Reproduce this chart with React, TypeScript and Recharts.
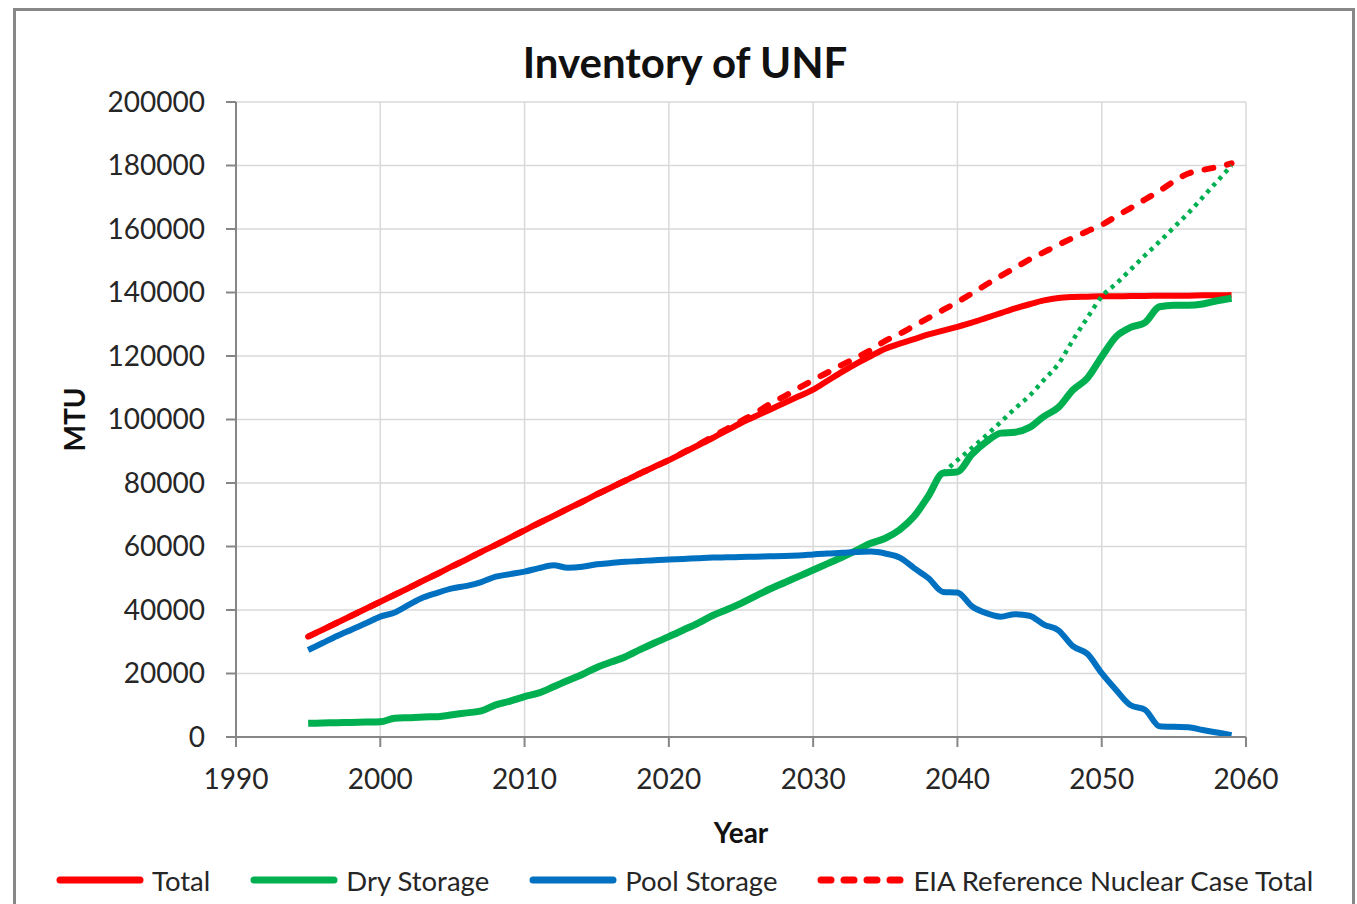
import React from "react";
import {
  CartesianGrid,
  Label,
  Legend,
  Line,
  LineChart,
  XAxis,
  YAxis,
} from "recharts";

const years = [
  1995, 1996, 1997, 1998, 1999, 2000, 2001, 2002, 2003, 2004, 2005, 2006, 2007,
  2008, 2009, 2010, 2011, 2012, 2013, 2014, 2015, 2016, 2017, 2018, 2019, 2020,
  2021, 2022, 2023, 2024, 2025, 2026, 2027, 2028, 2029, 2030, 2031, 2032, 2033,
  2034, 2035, 2036, 2037, 2038, 2039, 2040, 2041, 2042, 2043, 2044, 2045, 2046,
  2047, 2048, 2049, 2050, 2051, 2052, 2053, 2054, 2055, 2056, 2057, 2058, 2059,
];

const totalValues = [
  31600, 33800, 36000, 38200, 40400, 42600, 44800, 47000, 49300, 51500, 53800,
  56000, 58300, 60500, 62800, 65100, 67400, 69600, 71900, 74100, 76400, 78600,
  80800, 83000, 85100, 87200, 89500, 91800, 94100, 96500, 98900, 101000, 103100,
  105200, 107300, 109400, 112200, 115000, 117600, 120000, 122300, 123900,
  125300, 126800, 128000, 129200, 130500, 132000, 133500, 135000, 136300,
  137500, 138300, 138600, 138700, 138800, 138800, 138900, 138900, 139000,
  139000, 139000, 139100, 139100, 139200,
];

const dryValues = [
  4300, 4400, 4500, 4600, 4700, 4800, 5900, 6100, 6300, 6400, 7000, 7600, 8200,
  10100, 11300, 12700, 13900, 15800, 17800, 19700, 21900, 23600, 25300, 27500,
  29600, 31600, 33700, 35800, 38200, 40100, 42100, 44400, 46600, 48600, 50600,
  52600, 54600, 56600, 58800, 61000, 62600, 65300, 69500, 76000, 83100, 83500,
  89000, 93000, 95700, 96000, 97500, 101000, 103800, 109300, 113000, 119800,
  126100, 129000, 130500, 135500, 136000, 136000, 136400, 137400, 138200,
];

const poolValues = [
  27400, 29600, 31800, 33800, 35800, 37900, 39200, 41700, 44000, 45500, 46800,
  47600, 48800, 50500, 51300, 52100, 53200, 54100, 53300, 53600, 54400, 54800,
  55200, 55400, 55700, 55900, 56100, 56300, 56500, 56600, 56700, 56800, 56900,
  57000, 57200, 57500, 57800, 58000, 58300, 58400, 57800, 56500, 53200, 50000,
  45700, 45500, 41200, 39000, 37900, 38700, 38200, 35400, 33600, 28600, 26200,
  20100, 14800, 10000, 8600, 3400, 3200, 3100, 2200, 1400, 600,
];

const eiaValues = [
  31600, 33800, 36000, 38200, 40400, 42600, 44800, 47000, 49300, 51500, 53800,
  56000, 58300, 60500, 62800, 65100, 67400, 69600, 71900, 74100, 76400, 78600,
  80800, 83000, 85100, 87200, 89600, 92000, 94500, 97000, 99500, 102000,
  104900, 107300, 109900, 112400, 114800, 117200, 119500, 121900, 124800,
  127000, 129500, 132000, 134500, 137000, 139700, 142500, 145200, 147800,
  150400, 152700, 155000, 157200, 159300, 161300, 164000, 166600, 169300,
  172000, 175000, 177500, 178600, 179500, 180700,
];

// dotted green continuation, no legend entry
const projectionYears = [
  2039, 2040, 2041, 2042, 2043, 2044, 2045, 2046, 2047, 2048, 2049, 2050, 2051,
  2052, 2053, 2054, 2055, 2056, 2057, 2058, 2059,
];
const projectionValues = [
  83100, 87200, 91000, 95000, 99200, 103500, 107500, 112500, 117500, 125000,
  132000, 138700, 142800, 147200, 151700, 156000, 160500, 165000, 170000,
  175000, 180000,
];

const xTicks = [1990, 2000, 2010, 2020, 2030, 2040, 2050, 2060];
const yTicks = [
  0, 20000, 40000, 60000, 80000, 100000, 120000, 140000, 160000, 180000, 200000,
];

const legendItems = [
  { name: "Total", color: "#FF0000", dashed: false },
  { name: "Dry Storage", color: "#00B050", dashed: false },
  { name: "Pool Storage", color: "#0070C0", dashed: false },
  { name: "EIA Reference Nuclear Case Total", color: "#FF0000", dashed: true },
];

const data = years.map((year, i) => {
  const p = projectionYears.indexOf(year);
  return {
    year,
    total: totalValues[i],
    dry: dryValues[i],
    pool: poolValues[i],
    eia: eiaValues[i],
    projection: p >= 0 ? projectionValues[p] : undefined,
  };
});

const FONT = "Lato, 'Open Sans', sans-serif";
const TEXT = "#262626";
const AXIS = "#868686";

function ChartLegend() {
  return (
    <div
      style={{
        display: "flex",
        alignItems: "center",
        paddingLeft: 56,
        fontFamily: FONT,
        fontSize: 27.5,
        color: TEXT,
        height: 36,
        whiteSpace: "nowrap",
      }}
    >
      {legendItems.map((item, i) => (
        <div
          key={item.name}
          style={{
            display: "flex",
            alignItems: "center",
            flexShrink: 0,
            marginRight: i < legendItems.length - 1 ? 40 : 0,
          }}
        >
          <svg width={88} height={10} style={{ marginRight: 8, flexShrink: 0 }}>
            <line
              x1={4}
              y1={5}
              x2={84}
              y2={5}
              stroke={item.color}
              strokeWidth={7}
              strokeLinecap="round"
              strokeDasharray={item.dashed ? "10 13" : undefined}
            />
          </svg>
          <span>{item.name}</span>
        </div>
      ))}
    </div>
  );
}

export default function App() {
  return (
    <div
      style={{
        position: "fixed",
        inset: 0,
        overflow: "hidden",
        background: "#fff",
      }}
    >
      <div
        style={{
          position: "absolute",
          left: 13,
          top: 8,
          width: 1336,
          height: 920,
          border: "3px solid #888888",
        }}
      />
      <div
        style={{
          position: "absolute",
          left: 0,
          top: 41,
          width: 1370,
          textAlign: "center",
          fontFamily: FONT,
          fontWeight: 700,
          fontSize: 42,
          lineHeight: 1,
          color: "#111",
        }}
      >
        Inventory of UNF
      </div>
      <div style={{ position: "absolute", left: 0, top: 0 }}>
        <LineChart
          width={1357}
          height={904}
          data={data}
          margin={{ top: 102, right: 111, bottom: 60, left: 50 }}
        >
          <CartesianGrid stroke="#d9d9d9" strokeWidth={1.5} />
          <XAxis
            dataKey="year"
            type="number"
            domain={[1990, 2060]}
            ticks={xTicks}
            interval={0}
            height={107}
            tickSize={10}
            tickMargin={22}
            axisLine={{ stroke: AXIS, strokeWidth: 2 }}
            tickLine={{ stroke: AXIS, strokeWidth: 2 }}
            tick={{ fill: TEXT, fontSize: 28, fontFamily: FONT }}
          >
            <Label
              content={({ viewBox }: any) => (
                <text
                  x={viewBox.x + viewBox.width / 2}
                  y={viewBox.y + 106}
                  textAnchor="middle"
                  fontFamily={FONT}
                  fontWeight={700}
                  fontSize={28}
                  fill="#111"
                >
                  Year
                </text>
              )}
            />
          </XAxis>
          <YAxis
            domain={[0, 200000]}
            ticks={yTicks}
            interval={0}
            width={186}
            tickSize={10}
            tickMargin={21}
            axisLine={{ stroke: AXIS, strokeWidth: 2 }}
            tickLine={{ stroke: AXIS, strokeWidth: 2 }}
            tick={{ fill: TEXT, fontSize: 28, fontFamily: FONT }}
          >
            <Label
              content={({ viewBox }: any) => {
                const x = viewBox.x + 35;
                const y = viewBox.y + viewBox.height / 2;
                return (
                  <text
                    x={x}
                    y={y}
                    transform={`rotate(-90 ${x} ${y})`}
                    textAnchor="middle"
                    fontFamily={FONT}
                    fontWeight={700}
                    fontSize={28}
                    fill="#111"
                  >
                    MTU
                  </text>
                );
              }}
            />
          </YAxis>
          <Line
            type="monotone"
            dataKey="total"
            name="Total"
            stroke="#FF0000"
            strokeWidth={6}
            dot={false}
            activeDot={false}
            isAnimationActive={false}
          />
          <Line
            type="monotone"
            dataKey="dry"
            name="Dry Storage"
            stroke="#00B050"
            strokeWidth={7}
            dot={false}
            activeDot={false}
            isAnimationActive={false}
          />
          <Line
            type="monotone"
            dataKey="pool"
            name="Pool Storage"
            stroke="#0070C0"
            strokeWidth={6}
            dot={false}
            activeDot={false}
            isAnimationActive={false}
          />
          <Line
            type="monotone"
            dataKey="eia"
            name="EIA Reference Nuclear Case Total"
            stroke="#FF0000"
            strokeWidth={6}
            strokeDasharray="9 14"
            strokeLinecap="round"
            dot={false}
            activeDot={false}
            isAnimationActive={false}
          />
          <Line
            type="monotone"
            dataKey="projection"
            stroke="#00B050"
            strokeWidth={4.5}
            strokeDasharray="4 5"
            legendType="none"
            dot={false}
            activeDot={false}
            isAnimationActive={false}
          />
          <Legend
            verticalAlign="middle"
            align="center"
            wrapperStyle={{ top: 862, left: 0, width: 1357 }}
            content={() => <ChartLegend />}
          />
        </LineChart>
      </div>
    </div>
  );
}
